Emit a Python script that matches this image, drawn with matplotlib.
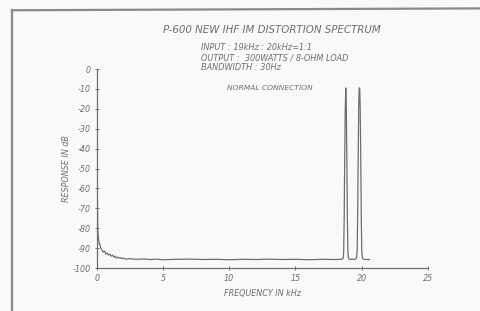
import matplotlib
matplotlib.use("Agg")
import matplotlib.pyplot as plt
from matplotlib.lines import Line2D

# spectrum trace (kHz, dB)
freq_khz = [0.0, 0.03, 0.05, 0.08, 0.1, 0.15, 0.2, 0.25, 0.3, 0.4, 0.5, 0.6, 0.7, 0.8,
            0.9, 1.0, 1.1, 1.2, 1.3, 1.4, 1.5, 1.6, 1.7, 1.8, 1.9, 2.0, 2.2, 2.5,
            3.0, 3.5, 4.0, 4.5, 5.0, 6.0, 7.0, 8.0, 9.0, 10.0, 11.0, 12.0, 13.0,
            14.0, 15.0, 16.0, 17.0, 18.0, 18.5, 18.6, 18.64, 18.68, 18.72, 18.76,
            18.8, 18.84, 18.88, 18.92, 18.96, 19.0, 19.06, 19.15, 19.3, 19.45,
            19.55, 19.62, 19.66, 19.7, 19.74, 19.78, 19.81, 19.85, 19.89, 19.93,
            19.97, 20.01, 20.05, 20.1, 20.2, 20.35, 20.6]
response_db = [-100, -43, -65, -80, -83, -86, -88, -88, -90, -91, -92, -91.5, -93,
               -92.5, -93.5, -93, -94, -93.5, -94.5, -94, -95, -94.5, -95, -94.8,
               -95.3, -95, -95.5, -95.3, -95.6, -95.4, -95.7, -95.5, -95.8, -95.6,
               -95.5, -95.7, -95.6, -95.8, -95.6, -95.7, -95.5, -95.7, -95.6,
               -95.8, -95.6, -95.7, -95.6, -95.2, -92, -75, -45, -20, -9.5, -20,
               -45, -75, -92, -94.8, -95.5, -95.7, -95.5, -95.7, -95.3, -94.6,
               -91, -72, -42, -18, -9.5, -9.5, -20, -45, -75, -92, -94.8, -95.4,
               -95.6, -95.7, -95.7]

y_ticks = [0, -10, -20, -30, -40, -50, -60, -70, -80, -90, -100]
x_ticks = [0, 5, 10, 15, 20, 25]

ink = "#6e6e72"
paper = "#f9f9f7"

fig = plt.figure(figsize=(4.8, 3.11), dpi=100, facecolor=paper)
ax = fig.add_axes([0.2015, 0.138, 0.690, 0.640], facecolor=paper)

ax.plot(freq_khz, response_db, color=ink, lw=0.9)

ax.set_xlim(0, 25)
ax.set_ylim(-100, 0)
ax.set_xticks(x_ticks)
ax.set_yticks(y_ticks)
ax.set_xticklabels([str(t) for t in x_ticks], fontsize=5.8, style="italic", color=ink)
ax.set_yticklabels([str(t) for t in y_ticks], fontsize=5.8, style="italic", color=ink)
ax.tick_params(direction="inout", length=3, width=0.7, color=ink, pad=3)
for side in ["top", "right"]:
    ax.spines[side].set_visible(False)
for side in ["left", "bottom"]:
    ax.spines[side].set_color(ink)
    ax.spines[side].set_linewidth(0.9)

ax.set_xlabel("FREQUENCY IN kHz", fontsize=5.8, style="italic", color=ink, labelpad=4)
ax.set_ylabel("RESPONSE IN dB", fontsize=5.8, style="italic", color=ink, labelpad=1)

fig.text(0.567, 0.905, "P-600 NEW IHF IM DISTORTION SPECTRUM", ha="center", va="center",
         fontsize=7.4, style="italic", color=ink)
info = ["INPUT : 19kHz : 20kHz=1:1", "OUTPUT :  300WATTS / 8-OHM LOAD", "BANDWIDTH : 30Hz"]
for i, line in enumerate(info):
    fig.text(0.419, 0.847 - i * 0.032, line, ha="left", va="center",
             fontsize=5.9, style="italic", color=ink)
fig.text(0.563, 0.718, "NORMAL CONNECTION", ha="center", va="center",
         fontsize=5.4, style="italic", color=ink)

# outer frame of the scanned page
fig.add_artist(Line2D([0.025, 0.025], [0.0, 0.967], color="#8a8a8a", lw=1.6))
fig.add_artist(Line2D([0.025, 1.0], [0.967, 0.973], color="#8a8a8a", lw=1.6))

fig.savefig("out.png", dpi=100, facecolor=paper)
